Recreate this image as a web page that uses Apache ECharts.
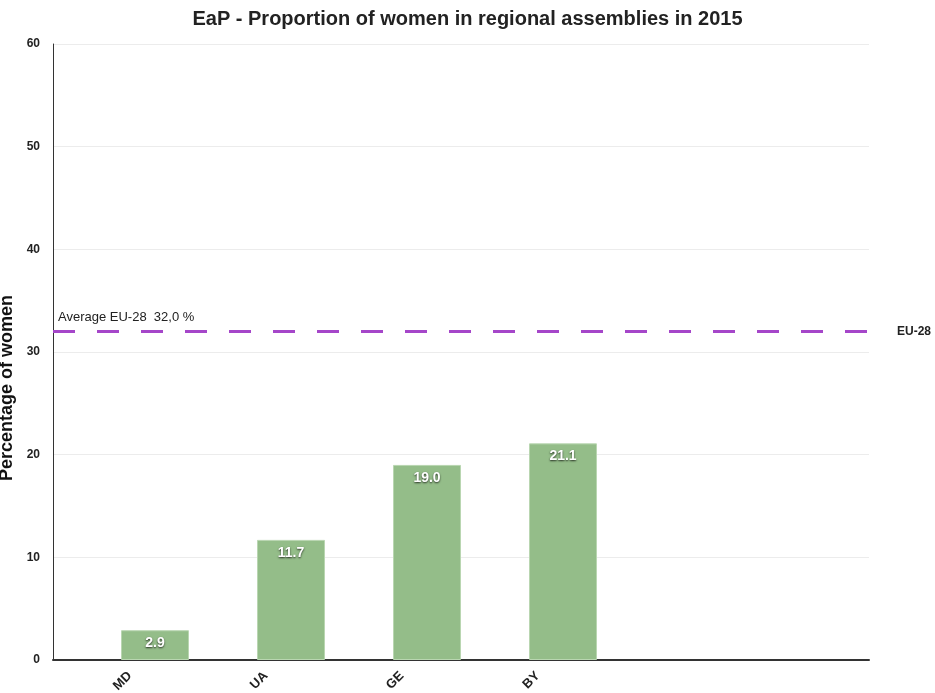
<!DOCTYPE html>
<html>
<head>
<meta charset="utf-8">
<title>EaP - Proportion of women in regional assemblies in 2015</title>
<script src="https://cdn.jsdelivr.net/npm/echarts@6/dist/echarts.min.js"></script>
<style>
  html, body { margin: 0; padding: 0; background: #fff; }
  #chart { width: 935px; height: 693px; }
</style>
</head>
<body>
<div id="chart"></div>
<script>
// Countries (two trailing empty slots keep the right part of the plot open)
const countries = ['MD', 'UA', 'GE', 'BY', '', ''];
// Share of women in regional assemblies, %
const womenShare = [2.9, 11.7, 19.0, 21.1, null, null];
// Empty companion series that sits left of each bar in its slot
const spacer = [null, null, null, null, null, null];
// EU-28 average, %
const euAverage = 32.0;
const yTicks = [0, 10, 20, 30, 40, 50, 60];

const chart = echarts.init(document.getElementById('chart'), null, { renderer: 'canvas' });
const FONT = '"Liberation Sans", Arial, sans-serif';

chart.setOption({
  animation: false,
  textStyle: { fontFamily: FONT },
  title: {
    text: 'EaP - Proportion of women in regional assemblies in 2015',
    left: 'center',
    top: 4,
    textStyle: { fontSize: 20, fontWeight: 'bold', color: '#222', fontFamily: FONT }
  },
  grid: { left: 53, right: 66, top: 44, bottom: 33, containLabel: false, outerBoundsMode: 'none' },
  xAxis: {
    type: 'category',
    data: countries,
    axisLine: { lineStyle: { color: '#333', width: 2 } },
    axisTick: { show: false },
    axisLabel: {
      rotate: 45,
      margin: 5,
      verticalAlign: 'top',
      lineHeight: 25,
      fontSize: 13,
      fontWeight: 'bold',
      color: '#222',
      fontFamily: FONT
    }
  },
  yAxis: {
    type: 'value',
    min: yTicks[0],
    max: yTicks[yTicks.length - 1],
    interval: 10,
    name: 'Percentage of women',
    nameLocation: 'middle',
    nameGap: 33,
    nameTextStyle: {
      fontSize: 18,
      fontWeight: 'bold',
      color: '#111',
      fontFamily: FONT,
      padding: [0, 72, 0, 0]
    },
    axisLine: { show: true, lineStyle: { color: '#333', width: 1 } },
    axisTick: { show: false },
    axisLabel: { margin: 13, fontSize: 12, fontWeight: 'bold', color: '#222', fontFamily: FONT },
    splitLine: { lineStyle: { color: '#ececec', width: 1 } }
  },
  series: [
    {
      type: 'bar',
      name: 'spacer',
      data: spacer,
      barGap: '0%',
      barCategoryGap: '0%',
      silent: true
    },
    {
      type: 'bar',
      name: 'Proportion of women',
      data: womenShare,
      barGap: '0%',
      barCategoryGap: '0%',
      itemStyle: { color: '#94bd89', borderColor: '#b9d6b1', borderWidth: 1 },
      label: {
        show: true,
        position: 'insideTop',
        distance: 6,
        formatter: p => p.value == null ? '' : p.value.toFixed(1),
        fontSize: 14,
        fontWeight: 'bold',
        color: '#fff',
        fontFamily: FONT,
        textShadowColor: 'rgba(0,0,0,0.75)',
        textShadowBlur: 2,
        textShadowOffsetX: 0,
        textShadowOffsetY: 1
      },
      markLine: {
        silent: true,
        symbol: ['none', 'none'],
        lineStyle: { color: '#a546c9', width: 3, type: [22, 22] },
        data: [
          {
            yAxis: euAverage,
            label: {
              show: true,
              position: 'end',
              distance: 28,
              formatter: 'EU-28',
              fontSize: 12,
              fontWeight: 'bold',
              color: '#222',
              fontFamily: FONT
            }
          },
          {
            yAxis: euAverage,
            label: {
              show: true,
              position: 'insideStartTop',
              distance: [5, 8],
              formatter: 'Average EU-28  ' + euAverage.toFixed(1).replace('.', ',') + ' %',
              fontSize: 13,
              fontWeight: 'normal',
              color: '#222',
              fontFamily: FONT
            }
          }
        ]
      }
    }
  ]
});
</script>
</body>
</html>
